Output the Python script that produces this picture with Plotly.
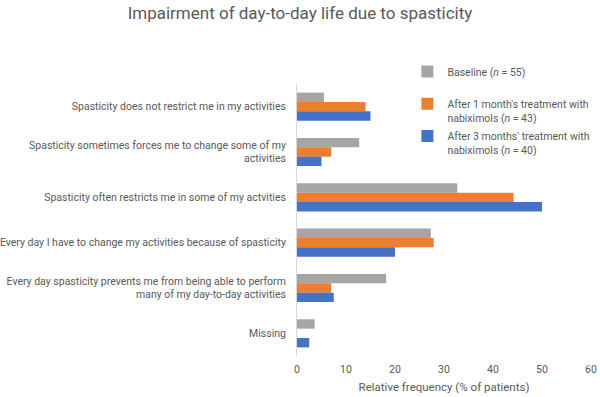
import plotly.graph_objects as go

categories = [
    "Spasticity does not restrict me in my activities",
    "Spasticity sometimes forces me to change some of my<br>activities",
    "Spasticity often restricts me in some of my actvities",
    "Every day I have to change my activities because of spasticity",
    "Every day spasticity prevents me from being able to perform<br>many of my day-to-day activities",
    "Missing",
]
baseline = [5.5, 12.7, 32.7, 27.3, 18.2, 3.6]
month1 = [14.0, 7.0, 44.2, 27.9, 7.0, 0.0]
month3 = [15.0, 5.0, 50.0, 20.0, 7.5, 2.5]
series_names = [
    "Baseline (<i>n</i> = 55)<br> ",
    "After 1 month's treatment with<br>nabiximols (<i>n</i> = 43)",
    "After 3 months' treatment with<br>nabiximols (<i>n</i> = 40)",
]
colors = ["#A5A5A5", "#ED7D31", "#4472C4"]
x_ticks = [0, 10, 20, 30, 40, 50, 60]

FONT = "Roboto"
GRAY = "#595959"
FS = 10.5

fig = go.Figure()
for i, (name, vals, col) in enumerate(zip(series_names, [baseline, month1, month3], colors)):
    fig.add_trace(go.Bar(
        y=categories, x=vals, name=name, orientation="h",
        marker=dict(color=col, line=dict(width=0)),
        legendgroup=f"g{i}",
    ))

fig.update_layout(
    width=600, height=397,
    margin=dict(l=297, r=9, t=84, b=41, autoexpand=False),
    paper_bgcolor="white", plot_bgcolor="white",
    barmode="group", bargap=0.38, bargroupgap=0,
    title=dict(text="Impairment of day-to-day life due to spasticity",
               x=0.5, xanchor="center", y=0.966, yanchor="middle",
               xref="container", yref="container",
               font=dict(family=FONT, size=17, color=GRAY)),
    font=dict(family=FONT, size=FS, color=GRAY),
    showlegend=True,
    legend=dict(xref="paper", yref="paper",
                x=1.015, xanchor="right", y=1.095, yanchor="top",
                traceorder="grouped", valign="top",
                font=dict(family=FONT, size=FS, color=GRAY),
                bgcolor="rgba(0,0,0,0)", tracegroupgap=2,
                itemwidth=30),
    xaxis=dict(range=[0, 60], tickvals=x_ticks, showgrid=False, zeroline=False,
               showline=False, ticks="", automargin=False,
               ticklabelstandoff=5,
               tickfont=dict(size=FS, color=GRAY),
               title=dict(text="Relative frequency (% of patients)",
                          font=dict(size=11.5, color=GRAY), standoff=8)),
    yaxis=dict(autorange="reversed", showgrid=False, zeroline=False,
               showline=True, linecolor="#D9D9D9", linewidth=1, ticks="",
               ticklabelstandoff=8, automargin=False,
               tickfont=dict(size=FS, color=GRAY)),
)

fig.write_html("out.html",
               config={"displayModeBar": False},
               post_script="document.body.style.margin='0';document.body.style.overflow='hidden';")
